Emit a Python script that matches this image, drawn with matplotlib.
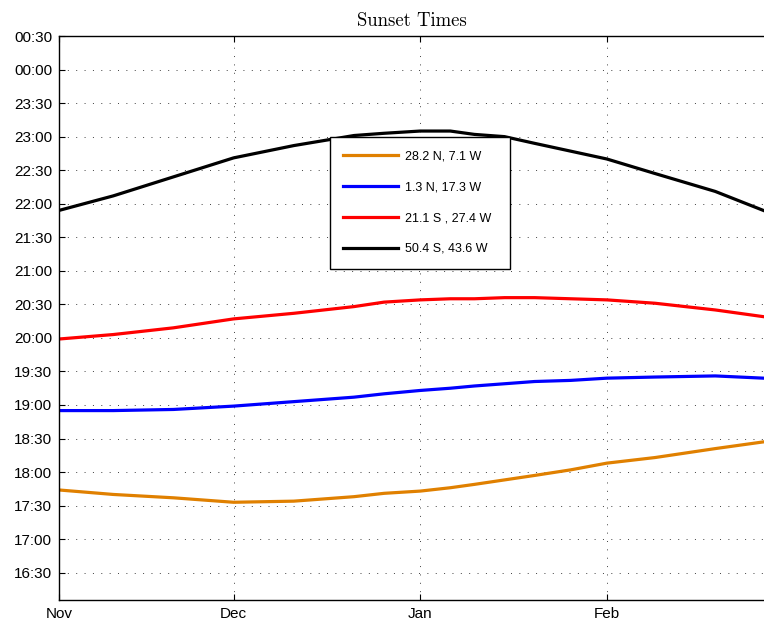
import matplotlib.pyplot as plt
from matplotlib.ticker import FuncFormatter, FixedLocator

# day index, 0 = 1 Nov
days = [1, 10, 20, 30, 40, 50, 55, 61, 66, 70, 75, 80, 86, 92, 100, 110, 118]

# sunset times, "HH:MM"
sun_28N = ["17:44", "17:40", "17:37", "17:33", "17:34", "17:38", "17:41", "17:43", "17:46",
           "17:49", "17:53", "17:57", "18:02", "18:08", "18:13", "18:21", "18:27"]
sun_1N = ["18:55", "18:55", "18:56", "18:59", "19:03", "19:07", "19:10", "19:13", "19:15",
          "19:17", "19:19", "19:21", "19:22", "19:24", "19:25", "19:26", "19:24"]
sun_21S = ["19:59", "20:03", "20:09", "20:17", "20:22", "20:28", "20:32", "20:34", "20:35",
           "20:35", "20:36", "20:36", "20:35", "20:34", "20:31", "20:25", "20:19"]
sun_50S = ["21:54", "22:07", "22:24", "22:41", "22:52", "23:01", "23:03", "23:05", "23:05",
           "23:02", "23:00", "22:54", "22:47", "22:40", "22:27", "22:11", "21:54"]

labels = ["28.2 N, 7.1 W", "1.3 N, 17.3 W", "21.1 S , 27.4 W", "50.4 S, 43.6 W"]
colors = ["#e08000", "#0000ff", "#ff0000", "#000000"]

month_ticks = [1, 30, 61, 92]
month_names = ["Nov", "Dec", "Jan", "Feb"]


def to_hours(t):
    h, m = t.split(":")
    return int(h) + int(m) / 60.0


def hhmm(v, pos=None):
    mins = int(round(v * 60)) % (24 * 60)
    return "%02d:%02d" % (mins // 60, mins % 60)


plt.rcParams['font.family'] = ['Liberation Sans', 'DejaVu Sans']

fig = plt.figure(figsize=(7.64, 6.22), dpi=100)
ax = fig.add_axes([59 / 764, 22 / 622, 705 / 764, 564 / 622])

for series, lab, col in zip([sun_28N, sun_1N, sun_21S, sun_50S], labels, colors):
    ax.plot(days, [to_hours(t) for t in series], color=col, lw=2.3, label=lab)

ax.set_xlim(1, 118.1)
ax.set_ylim(16 + 5.6 / 60, 24.5)
ax.xaxis.set_major_locator(FixedLocator(month_ticks))
ax.set_xticklabels(month_names)
ax.yaxis.set_major_locator(FixedLocator([16.5 + 0.5 * i for i in range(17)]))
ax.yaxis.set_major_formatter(FuncFormatter(hhmm))

ax.grid(True, color='0.25', lw=0.7, linestyle=(0, (1, 7.6)))
ax.tick_params(direction='in', length=4, width=0.8, labelsize=11,
               top=True, right=False, pad=5)
ax.spines['right'].set_visible(False)
for s in ['left', 'bottom', 'top']:
    ax.spines[s].set_linewidth(1.0)

ax.set_title("Sunset Times", fontfamily='cmr10', fontsize=13.5, pad=7)

# legend box spans a fixed width; one column so the text gets the slack
leg = ax.legend(loc='upper left', bbox_to_anchor=(0.384, 0.5, 0.2553, 0.321),
                mode='expand', borderaxespad=0,
                fontsize=9, handlelength=4.4, handletextpad=0.5, labelspacing=1.5,
                borderpad=1.1, fancybox=False, framealpha=1, edgecolor='black')
leg.get_frame().set_linewidth(1.0)

fig.savefig("out.png", dpi=100)
